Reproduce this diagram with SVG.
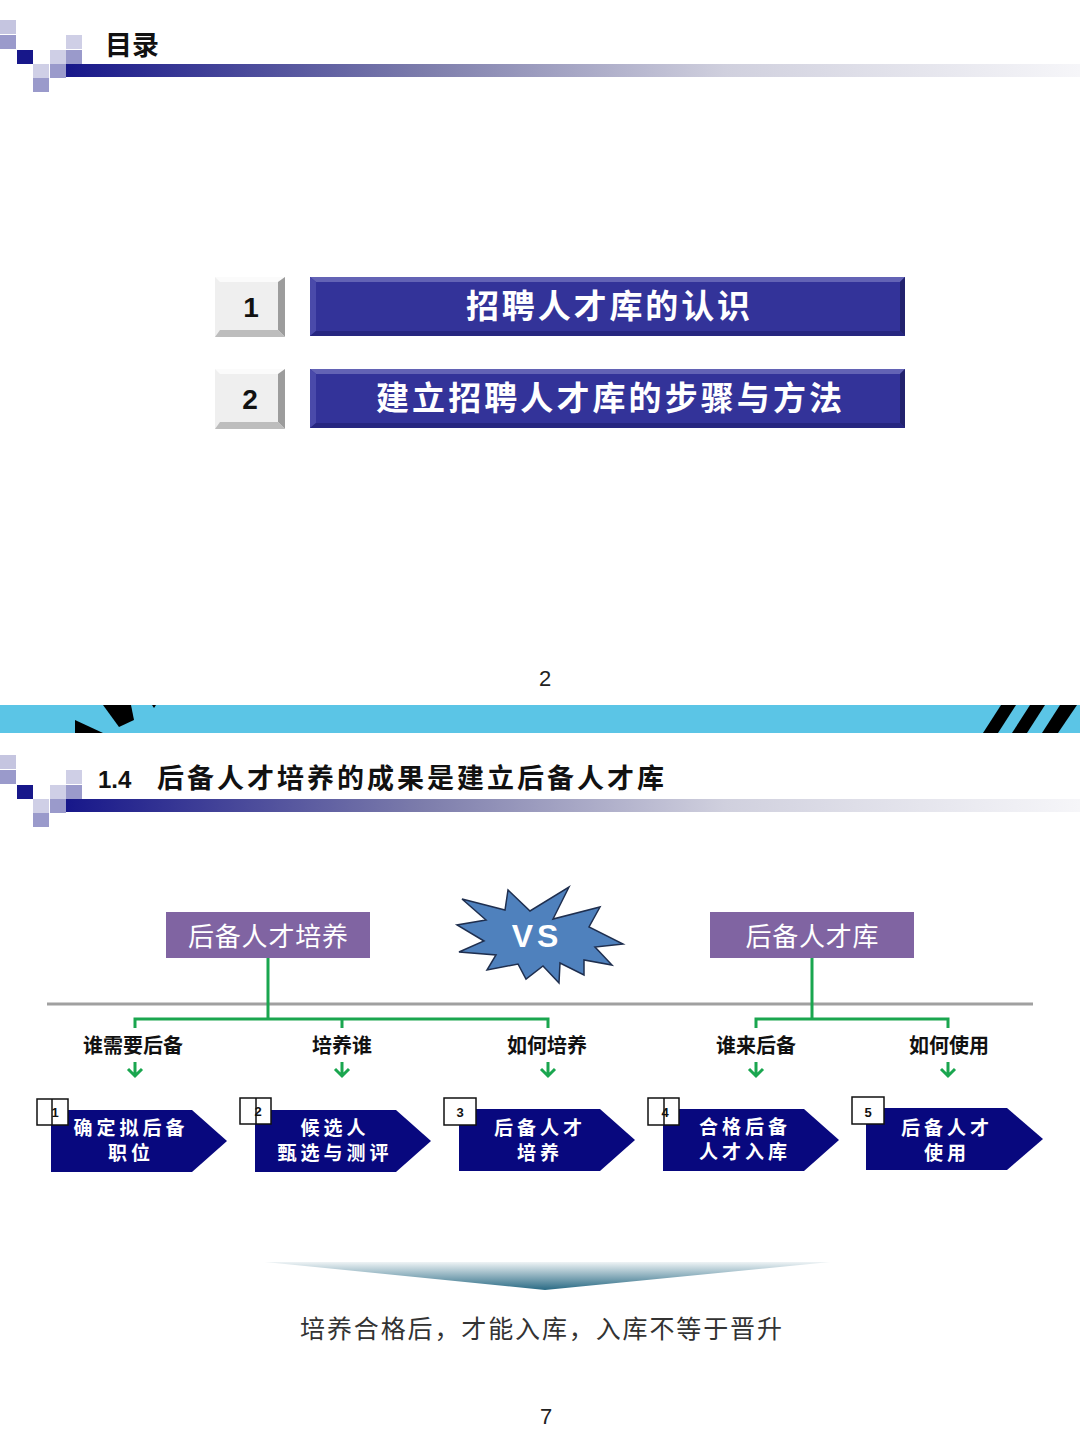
<svg xmlns="http://www.w3.org/2000/svg" xmlns:xlink="http://www.w3.org/1999/xlink" width="1080" height="1443" viewBox="0 0 1080 1443">
<style>
.cjk{font-family:"Noto Sans CJK SC","Liberation Sans",sans-serif}
.hdr{font-size:27px;font-weight:bold;fill:#111}
.bartxt{font-size:33px;font-weight:bold;fill:#fff}
.num{font-family:"Liberation Sans",Arial,sans-serif;font-size:28px;font-weight:bold;fill:#111}
.ptxt{font-size:26px;fill:#fff}
.lbl{font-size:20px;font-weight:bold;fill:#111}
.chv{fill:#08087e}
.ctxt{font-size:19px;font-weight:bold;fill:#fff;letter-spacing:4px}
.nbox{fill:#fff;stroke:#111;stroke-width:1.5}
.ntxt{font-family:"Liberation Sans",Arial,sans-serif;font-size:13px;font-weight:bold;fill:#111}
.grn{stroke:#1aa64f;stroke-width:3;fill:none}
.pg{font-family:"Liberation Sans",Arial,sans-serif;font-size:22px;fill:#222}
</style>
<defs>
<linearGradient id="hbar" x1="0" y1="0" x2="1" y2="0">
<stop offset="0" stop-color="#17178a"/>
<stop offset="0.35" stop-color="#7c7cab"/>
<stop offset="0.65" stop-color="#d0d0de"/>
<stop offset="1" stop-color="#f6f6f9"/>
</linearGradient>
<linearGradient id="funnel" x1="0" y1="0" x2="0" y2="1">
<stop offset="0" stop-color="#eef3f5"/>
<stop offset="1" stop-color="#296a84"/>
</linearGradient>
<g id="deco">
<rect x="0" y="20" width="16" height="14" fill="#c5c5e0"/>
<rect x="0" y="35" width="16" height="14" fill="#9a9acb"/>
<rect x="17" y="50" width="16" height="14" fill="#17178a"/>
<rect x="33" y="64" width="16" height="14" fill="#cfcfe6"/>
<rect x="33" y="78" width="16" height="14" fill="#9a9acb"/>
<rect x="50" y="50" width="16" height="14" fill="#cfcfe6"/>
<rect x="50" y="64" width="16" height="14" fill="#9a9acb"/>
<rect x="66" y="35" width="16" height="14" fill="#cfcfe6"/>
<rect x="66" y="50" width="16" height="14" fill="#9a9acb"/>
<rect x="66" y="64" width="1014" height="13" fill="url(#hbar)"/>
</g>
</defs>

<!-- Slide 1 -->
<g id="header1">
<use xlink:href="#deco"/>
<text class="cjk hdr" x="105" y="55">目录</text>
</g>

<g id="item1">
<rect x="215" y="277" width="70" height="60" fill="#efefef"/>
<polygon points="215,277 285,277 278,282 220,282" fill="#fbfbfb"/>
<polygon points="278,282 285,277 285,337 278,330" fill="#9c9c9c"/>
<polygon points="220,330 278,330 285,337 215,337" fill="#bdbdbd"/>
<text class="num" x="251" y="317" text-anchor="middle">1</text>
<rect x="310" y="277" width="595" height="59" fill="#333399"/>
<polygon points="310,277 905,277 900,282 316,282" fill="#6363b5"/>
<polygon points="310,277 316,282 316,331 310,336" fill="#4a4aaa"/>
<polygon points="900,282 905,277 905,336 900,331" fill="#22226e"/>
<polygon points="316,331 900,331 905,336 310,336" fill="#262680"/>
<text class="cjk bartxt" x="608" y="318" text-anchor="middle" textLength="284" lengthAdjust="spacing">招聘人才库的认识</text>
</g>

<g id="item2">
<rect x="215" y="369" width="70" height="60" fill="#efefef"/>
<polygon points="215,369 285,369 278,374 220,374" fill="#fbfbfb"/>
<polygon points="278,374 285,369 285,429 278,422" fill="#9c9c9c"/>
<polygon points="220,422 278,422 285,429 215,429" fill="#bdbdbd"/>
<text class="num" x="250" y="409" text-anchor="middle">2</text>
<rect x="310" y="369" width="595" height="59" fill="#333399"/>
<polygon points="310,369 905,369 900,374 316,374" fill="#6363b5"/>
<polygon points="310,369 316,374 316,423 310,428" fill="#4a4aaa"/>
<polygon points="900,374 905,369 905,428 900,423" fill="#22226e"/>
<polygon points="316,423 900,423 905,428 310,428" fill="#262680"/>
<text class="cjk bartxt" x="609" y="410" text-anchor="middle" textLength="466" lengthAdjust="spacing">建立招聘人才库的步骤与方法</text>
</g>

<text class="pg" x="545" y="686" text-anchor="middle">2</text>

<!-- Band -->
<g id="band">
<rect x="0" y="705" width="1080" height="28" fill="#5bc5e6"/>
<polygon points="103,705 131,705 134,720 119,727" fill="#000"/>
<polygon points="75,720 103,733 75,733" fill="#000"/>
<polygon points="152,705 156,705 154,708" fill="#000"/>
<polygon points="1001,705 1016,705 998,733 983,733" fill="#000"/>
<polygon points="1030,705 1045,705 1027,733 1012,733" fill="#000"/>
<polygon points="1060,705 1077,705 1058,733 1042,733" fill="#000"/>
</g>

<!-- Slide 2 -->
<g id="header2">
<use xlink:href="#deco" transform="translate(0,735)"/>
<text x="98" y="788" font-family="Liberation Sans, Arial, sans-serif" font-size="24" font-weight="bold" fill="#111">1.4</text>
<text class="cjk" x="157" y="788" font-size="27" font-weight="bold" fill="#111" textLength="507" lengthAdjust="spacing">后备人才培养的成果是建立后备人才库</text>
</g>

<g id="connectors">
<line x1="47" y1="1004" x2="1033" y2="1004" stroke="#a0a0a0" stroke-width="3"/>
<path class="grn" d="M268,958 V1019 M135,1028 V1019 H548 V1028 M342,1019 V1028"/>
<path class="grn" d="M812,958 V1019 M756,1028 V1019 H948 V1028"/>
<path class="grn" d="M135,1062 V1076 M128,1069 L135,1076 L142,1069"/>
<path class="grn" d="M342,1062 V1076 M335,1069 L342,1076 L349,1069"/>
<path class="grn" d="M548,1062 V1076 M541,1069 L548,1076 L555,1069"/>
<path class="grn" d="M756,1062 V1076 M749,1069 L756,1076 L763,1069"/>
<path class="grn" d="M948,1062 V1076 M941,1069 L948,1076 L955,1069"/>
</g>

<g id="box-train">
<rect x="166" y="912" width="204" height="46" fill="#8064a2"/>
<text class="cjk ptxt" x="268" y="946" text-anchor="middle" textLength="160" lengthAdjust="spacing">后备人才培养</text>
</g>

<g id="vs">
<polygon points="569,887 553,919 600,907 589,927 623,944 595,947 612,965 584,960 584,975 560,963 559,983 543,966 526,979 518,964 487,970 496,955 459,952 484,941 457,925 486,920 462,899 505,910 508,890 530,911" fill="#4f81bd" stroke="#1f2f4f" stroke-width="1.5" stroke-linejoin="miter"/>
<text x="537" y="947" text-anchor="middle" font-family="Liberation Sans, Arial, sans-serif" font-size="32" font-weight="bold" fill="#fff" letter-spacing="4">VS</text>
</g>

<g id="box-pool">
<rect x="710" y="912" width="204" height="46" fill="#8064a2"/>
<text class="cjk ptxt" x="812" y="946" text-anchor="middle" textLength="133" lengthAdjust="spacing">后备人才库</text>
</g>

<g id="labels">
<text class="cjk lbl" x="133" y="1053" text-anchor="middle">谁需要后备</text>
<text class="cjk lbl" x="342" y="1053" text-anchor="middle">培养谁</text>
<text class="cjk lbl" x="547" y="1053" text-anchor="middle">如何培养</text>
<text class="cjk lbl" x="756" y="1053" text-anchor="middle">谁来后备</text>
<text class="cjk lbl" x="949" y="1053" text-anchor="middle">如何使用</text>
</g>

<g id="step1">
<polygon class="chv" points="51,1110 192,1110 227,1141 192,1172 51,1172"/>
<rect class="nbox" x="37" y="1099" width="31" height="26"/>
<line x1="52" y1="1099" x2="52" y2="1125" stroke="#111" stroke-width="1.5"/>
<text class="ntxt" x="55" y="1117" text-anchor="middle">1</text>
<text class="cjk ctxt" x="131" y="1135" text-anchor="middle">确定拟后备</text>
<text class="cjk ctxt" x="131" y="1160" text-anchor="middle">职位</text>
</g>

<g id="step2">
<polygon class="chv" points="255,1110 396,1110 431,1141 396,1172 255,1172"/>
<rect class="nbox" x="240" y="1098" width="31" height="26"/>
<line x1="256" y1="1098" x2="256" y2="1124" stroke="#111" stroke-width="1.5"/>
<text class="ntxt" x="258" y="1116" text-anchor="middle">2</text>
<text class="cjk ctxt" x="335" y="1135" text-anchor="middle">候选人</text>
<text class="cjk ctxt" x="335" y="1160" text-anchor="middle">甄选与测评</text>
</g>

<g id="step3">
<polygon class="chv" points="459,1109 600,1109 635,1140 600,1171 459,1171"/>
<rect class="nbox" x="444" y="1098" width="32" height="27"/>
<text class="ntxt" x="460" y="1117" text-anchor="middle">3</text>
<text class="cjk ctxt" x="540" y="1135" text-anchor="middle">后备人才</text>
<text class="cjk ctxt" x="540" y="1160" text-anchor="middle">培养</text>
</g>

<g id="step4">
<polygon class="chv" points="663,1109 804,1109 839,1140 804,1171 663,1171"/>
<rect class="nbox" x="648" y="1098" width="31" height="27"/>
<line x1="664" y1="1098" x2="664" y2="1125" stroke="#111" stroke-width="1.5"/>
<text class="ntxt" x="665" y="1117" text-anchor="middle">4</text>
<text class="cjk ctxt" x="745" y="1134" text-anchor="middle">合格后备</text>
<text class="cjk ctxt" x="745" y="1159" text-anchor="middle">人才入库</text>
</g>

<g id="step5">
<polygon class="chv" points="866,1108 1007,1108 1043,1139 1007,1170 866,1170"/>
<rect class="nbox" x="852" y="1097" width="32" height="27"/>
<text class="ntxt" x="868" y="1117" text-anchor="middle">5</text>
<text class="cjk ctxt" x="947" y="1135" text-anchor="middle">后备人才</text>
<text class="cjk ctxt" x="947" y="1160" text-anchor="middle">使用</text>
</g>

<g id="conclusion">
<polygon points="265,1262 830,1262 545,1290" fill="url(#funnel)"/>
<text class="cjk" x="541" y="1338" text-anchor="middle" font-size="25" fill="#333" textLength="482" lengthAdjust="spacing">培养合格后，才能入库，入库不等于晋升</text>
</g>

<text class="pg" x="546" y="1424" text-anchor="middle">7</text>
</svg>
